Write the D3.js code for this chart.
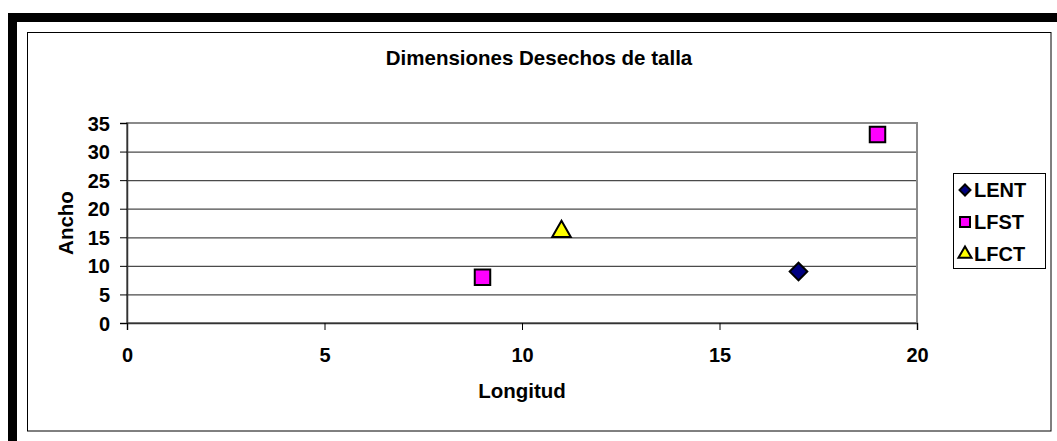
<!DOCTYPE html>
<html>
<head>
<meta charset="utf-8">
<script src="https://cdn.jsdelivr.net/npm/d3@7"></script>
<style>
  body { margin: 0; background: #fff; }
  svg text { font-family: "Liberation Sans", Arial, sans-serif; font-weight: bold; fill: #000; }
</style>
</head>
<body>
<svg id="chart" width="1057" height="441"></svg>
<script>
// series data
const seriesNames = ["LENT", "LFST", "LFCT"];
const lentPoints = [{ x: 17, y: 9 }];
const lfstPoints = [{ x: 9, y: 8 }, { x: 19, y: 33 }];
const lfctPoints = [{ x: 11, y: 16 }];
const xTicks = [0, 5, 10, 15, 20];
const yTicks = [0, 5, 10, 15, 20, 25, 30, 35];

const series = [
  { name: seriesNames[0], points: lentPoints, shape: d3.symbolSquare, rot: 45, fill: "#000080", size: 155, legendSize: 60 },
  { name: seriesNames[1], points: lfstPoints, shape: d3.symbolSquare, rot: 0, fill: "#FF00FF", size: 240, legendSize: 100 },
  { name: seriesNames[2], points: lfctPoints, shape: d3.symbolTriangle, rot: 0, fill: "#FFFF00", size: 150, legendSize: 75 }
];

const svg = d3.select("#chart");

// outer black frame (top and left only) and thin inner border
svg.append("rect").attr("x", 8).attr("y", 13).attr("width", 1049).attr("height", 9).attr("fill", "#000");
svg.append("rect").attr("x", 8).attr("y", 13).attr("width", 9).attr("height", 428).attr("fill", "#000");
svg.append("rect").attr("x", 27.5).attr("y", 32.5).attr("width", 1023.5).attr("height", 398.5)
  .attr("fill", "none").attr("stroke", "#000").attr("stroke-width", 1);

const plot = { left: 127, right: 917, top: 123, bottom: 323 };

const x = d3.scaleLinear().domain([0, 20]).range([plot.left, plot.right]);
const y = d3.scaleLinear().domain([0, 35]).range([plot.bottom, plot.top]);

// gridlines
svg.append("g")
  .attr("transform", `translate(${plot.left},0)`)
  .call(d3.axisLeft(y).tickValues(yTicks.slice(1, -1)).tickSize(-(plot.right - plot.left)).tickFormat(""))
  .call(g => g.select(".domain").remove())
  .call(g => g.selectAll(".tick line").attr("stroke", "#4a4a4a").attr("stroke-width", 1.3));

// plot area border (gray)
svg.append("rect")
  .attr("x", plot.left).attr("y", plot.top)
  .attr("width", plot.right - plot.left).attr("height", plot.bottom - plot.top)
  .attr("fill", "none").attr("stroke", "#8a8a8a").attr("stroke-width", 2);

// y axis
const yAxis = svg.append("g")
  .attr("transform", `translate(${plot.left},0)`)
  .call(d3.axisLeft(y).tickValues(yTicks).tickSize(7).tickPadding(10));
yAxis.select(".domain").attr("stroke", "#333").attr("stroke-width", 1.5);
yAxis.selectAll(".tick line").attr("stroke", "#000");
yAxis.selectAll("text").style("font-size", "20px").attr("dy", "0.35em");

// x axis
const xAxis = svg.append("g")
  .attr("transform", `translate(0,${plot.bottom})`)
  .call(d3.axisBottom(x).tickValues(xTicks).tickSize(7).tickPadding(18));
xAxis.select(".domain").attr("stroke", "#333").attr("stroke-width", 1.5);
xAxis.selectAll(".tick line").attr("stroke", "#000");
xAxis.selectAll("text").style("font-size", "20px").attr("dy", "0.68em");

// titles
svg.append("text")
  .attr("x", 539).attr("y", 65)
  .attr("text-anchor", "middle")
  .style("font-size", "20.5px")
  .text("Dimensiones Desechos de talla");

svg.append("text")
  .attr("x", 522).attr("y", 398)
  .attr("text-anchor", "middle")
  .style("font-size", "20.5px")
  .text("Longitud");

svg.append("text")
  .attr("transform", `translate(73,${(plot.top + plot.bottom) / 2}) rotate(-90)`)
  .attr("text-anchor", "middle")
  .style("font-size", "20.5px")
  .text("Ancho");

// markers
series.forEach(s => {
  svg.append("g")
    .selectAll("path")
    .data(s.points)
    .join("path")
    .attr("transform", d => `translate(${x(d.x)},${y(d.y)}) rotate(${s.rot})`)
    .attr("d", d3.symbol().type(s.shape).size(s.size))
    .attr("fill", s.fill)
    .attr("stroke", "#000")
    .attr("stroke-width", 2);
});

// legend
const legend = svg.append("g");
legend.append("rect")
  .attr("x", 953.5).attr("y", 173.5).attr("width", 92).attr("height", 95)
  .attr("fill", "#fff").attr("stroke", "#000").attr("stroke-width", 1);

series.forEach((s, i) => {
  const ly = 190 + i * 32;
  legend.append("path")
    .attr("transform", `translate(965,${ly}) rotate(${s.rot})`)
    .attr("d", d3.symbol().type(s.shape).size(s.legendSize))
    .attr("fill", s.fill)
    .attr("stroke", "#000")
    .attr("stroke-width", 2);
  legend.append("text")
    .attr("x", 974).attr("y", ly)
    .attr("dy", "0.35em")
    .style("font-size", "20px")
    .text(s.name);
});
</script>
</body>
</html>
